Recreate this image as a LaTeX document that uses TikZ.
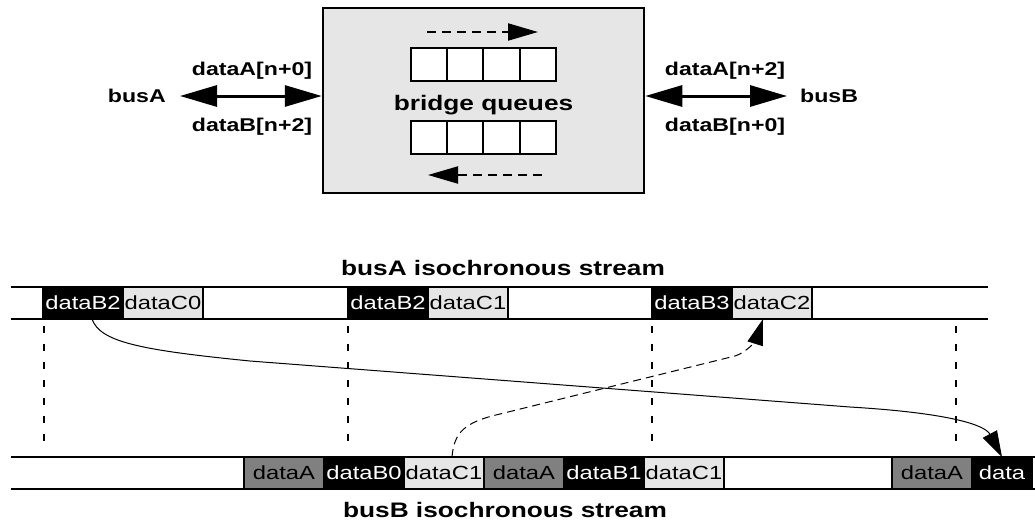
\documentclass[tikz,border=0pt]{standalone}
\usepackage{fontspec}
\setmainfont{Liberation Sans}[FakeStretch=1.25]
\usepackage{xcolor}
\usepackage{tikz}
\usetikzlibrary{arrows.meta,positioning}
\definecolor{qgray}{HTML}{E6E6E6}
\definecolor{agray}{HTML}{808080}
\tikzset{%
     buslabel/.style = { font=\fontsize{18.5}{20}\selectfont\bfseries, inner sep=0pt },
    titlelabel/.style = { font=\fontsize{21}{24}\selectfont\bfseries, inner sep=0pt },
    bridgebox/.style = { draw, line width=2.5pt, fill=qgray, minimum width=321pt, minimum height=185pt },
        qcell/.style = { draw, line width=2pt, fill=white, minimum width=36.25pt, minimum height=33pt },
     busarrow/.style = { line width=3pt, {Triangle[length=37pt,width=21pt]}-{Triangle[length=37pt,width=21pt]} },
       qarrow/.style = { line width=2pt, dash pattern=on 9pt off 6pt, -{Triangle[length=30pt,width=17pt]} },
         cell/.style = { draw, line width=1.5pt, minimum width=80pt, minimum height=32pt, inner sep=0pt, outer sep=0pt,
                         font=\fontsize{19}{22}\selectfont },
        bcell/.style = { cell, fill=black, text=white },
        ccell/.style = { cell, fill=qgray },
        acell/.style = { cell, fill=agray },
   streamline/.style = { line width=2pt },
     tickline/.style = { line width=2pt, dash pattern=on 7pt off 11pt },
         flow/.style = { line width=1pt, -{Triangle[length=26pt,width=16pt]} },
        dflow/.style = { flow, dash pattern=on 8pt off 5pt }
}

\begin{document}
\begin{tikzpicture}[x=1pt,y=-1pt]
\useasboundingbox (0,0) rectangle (1035,525);
% bridge with its two queues
\node[bridgebox] (bridge) at (483.5,100.5) {};
\foreach \i in {0,...,3} {
  \node[qcell] (qt\i) at (429.1+36.25*\i,64.5) {};
  \node[qcell] (qb\i) at (429.1+36.25*\i,137) {};
}
\node[titlelabel, anchor=base] (bq) at (483.5,110) {bridge queues};
\coordinate (qtl) at (427,32);
\coordinate (qtr) at (538,32);
\coordinate (qbr) at (542,175);
\coordinate (qbl) at (428,175);
\draw[qarrow] (qtl) -- (qtr);
\draw[qarrow] (qbr) -- (qbl);
% the two buses
\node[buslabel, anchor=east] (busA) at (166,96) {busA};
\node[buslabel, anchor=west] (busB) at (800,96) {busB};
\draw[busarrow] ([xshift=14pt]busA.east) -- (bridge.west |- busA.east);
\draw[busarrow] (bridge.east |- busB.west) -- ([xshift=-13pt]busB.west);
\node[buslabel, anchor=base] (dA0) at (252,75) {dataA[n+0]};
\node[buslabel, anchor=base] (dB2) at (252,131) {dataB[n+2]};
\node[buslabel, anchor=base] (dA2) at (725,75) {dataA[n+2]};
\node[buslabel, anchor=base] (dB0) at (725,131) {dataB[n+0]};
% busA stream
\node[titlelabel, anchor=base] (titleA) at (503,275) {busA isochronous stream};
\node[bcell] (tb0) at (83,303) {dataB2};
\node[ccell, right=0pt of tb0] (tc0) {dataC0};
\node[bcell] (tb1) at (388,303) {dataB2};
\node[ccell, right=0pt of tb1] (tc1) {dataC1};
\node[bcell] (tb2) at (692,303) {dataB3};
\node[ccell, right=0pt of tb2] (tc2) {dataC2};
\draw[streamline] (11,287) -- (988,287);
\draw[streamline] (11,319) -- (988,319);
% busB stream
\node[acell] (ba0) at (284,473) {dataA};
\node[bcell, right=0pt of ba0] (bb0) {dataB0};
\node[ccell, right=0pt of bb0] (bc0) {dataC1};
\node[acell, right=0pt of bc0] (ba1) {dataA};
\node[bcell, right=0pt of ba1] (bb1) {dataB1};
\node[ccell, right=0pt of bb1] (bc1) {dataC1};
\node[acell] (ba2) at (932,473) {dataA};
\node[bcell, right=0pt of ba2, minimum width=60pt] (bd) {data};
\draw[streamline] (11,457) -- (1035,457);
\draw[streamline] (11,489) -- (1035,489);
\node[titlelabel, anchor=base] (titleB) at (505,517) {busB isochronous stream};
% cycle marks
\foreach \x in {44,348,652,956}
  \draw[tickline] (\x,326) -- (\x,447);
% where the data goes
\draw[flow] ([xshift=9pt]tb0.south) .. controls (100,342) and (140,350) .. (250,361)
  -- (850,407) .. controls (950,413) and (985,425) .. (bd.north);
\draw[dflow] ([xshift=8pt]bc0.north) .. controls (454,432) and (465,422) .. (500,414)
  -- (735,356) .. controls (748,352) and (757,338) .. ([xshift=-9pt]tc2.south);
\end{tikzpicture}
\end{document}
